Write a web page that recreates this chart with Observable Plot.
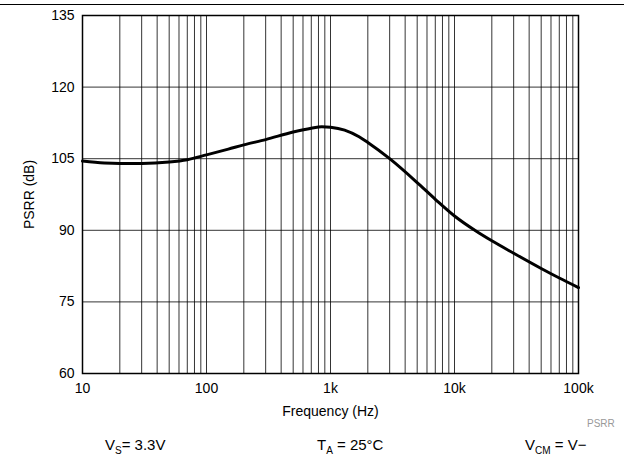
<!DOCTYPE html>
<html>
<head>
<meta charset="utf-8">
<script src="https://cdn.jsdelivr.net/npm/d3@7"></script>
<script src="https://cdn.jsdelivr.net/npm/@observablehq/plot@0.6"></script>
<style>
  body { margin: 0; background: #fff; font-family: "Liberation Sans", Arial, sans-serif; }
  #wrap { width: 624px; height: 460px; position: relative; overflow: hidden; }
  #topline { position: absolute; left: 0; top: 4px; width: 624px; height: 1px; background: #000; z-index: 2; }
  #chart { position: absolute; left: 0; top: 0; }
  .note { position: absolute; font-size: 15px; line-height: 18px; color: #000; white-space: nowrap; }
  .note sub { font-size: 10px; line-height: 0; }
  #tag { position: absolute; left: 587px; top: 418px; font-size: 10px; color: #999; }
</style>
</head>
<body>
<div id="wrap">
  <div id="topline"></div>
  <div id="chart"></div>
  <div id="tag">PSRR</div>
  <div class="note" style="left:105px; top:436px;">V<sub>S</sub>= 3.3V</div>
  <div class="note" style="left:317px; top:436px;">T<sub>A</sub> = 25°C</div>
  <div class="note" style="left:525px; top:436px;">V<sub>CM</sub> = V−</div>
</div>
<script>
// PSRR vs frequency
var freq = [10, 15, 20, 30, 50, 70, 100, 150, 200, 300, 500, 700, 850, 1000, 1300, 1700, 2000, 3000, 5000, 7000, 10000, 15000, 20000, 30000, 50000, 70000, 100000];
var psrr = [104.5, 104.1, 104.0, 104.0, 104.3, 104.8, 105.8, 107.0, 107.9, 109.0, 110.6, 111.4, 111.7, 111.6, 111.0, 109.6, 108.4, 105.0, 100.0, 96.5, 93.0, 89.8, 87.8, 85.2, 82.0, 80.0, 78.0];
var xTicks = [10, 100, 1000, 10000, 100000];
var xTickLabels = ["10", "100", "1k", "10k", "100k"];
var yTicks = [60, 75, 90, 105, 120, 135];

var data = freq.map(function(f, i) { return {f: f, v: psrr[i]}; });
var minor = [];
for (var d = 10; d < 100000; d *= 10) {
  for (var k = 1; k <= 9; k++) minor.push(d * k);
}

var plot = Plot.plot({
  width: 624,
  height: 420,
  marginLeft: 82,
  marginRight: 46,
  marginTop: 15,
  marginBottom: 47,
  style: {fontFamily: "Liberation Sans, Arial, sans-serif", fontSize: "14px", color: "#000", background: "transparent"},
  x: {type: "log", domain: [10, 100000], ticks: xTicks, tickFormat: function(d) { return xTickLabels[xTicks.indexOf(d)]; }, label: "Frequency (Hz)", labelAnchor: "center", labelArrow: "none", labelOffset: 42, tickSize: 0, tickPadding: 10},
  y: {domain: [60, 135], ticks: yTicks, label: "PSRR (dB)", labelAnchor: "center", labelArrow: "none", labelOffset: 58, tickSize: 0, tickPadding: 8},
  marks: [
    Plot.ruleX(minor, {stroke: "#000", strokeWidth: 0.8, strokeOpacity: 1}),
    Plot.ruleY(yTicks, {stroke: "#000", strokeWidth: 0.8}),
    Plot.line(data, {x: "f", y: "v", curve: "monotone-x", stroke: "#000", strokeWidth: 3}),
    Plot.frame({stroke: "#000", strokeWidth: 1.5})
  ]
});
document.getElementById("chart").appendChild(plot);
</script>
</body>
</html>
